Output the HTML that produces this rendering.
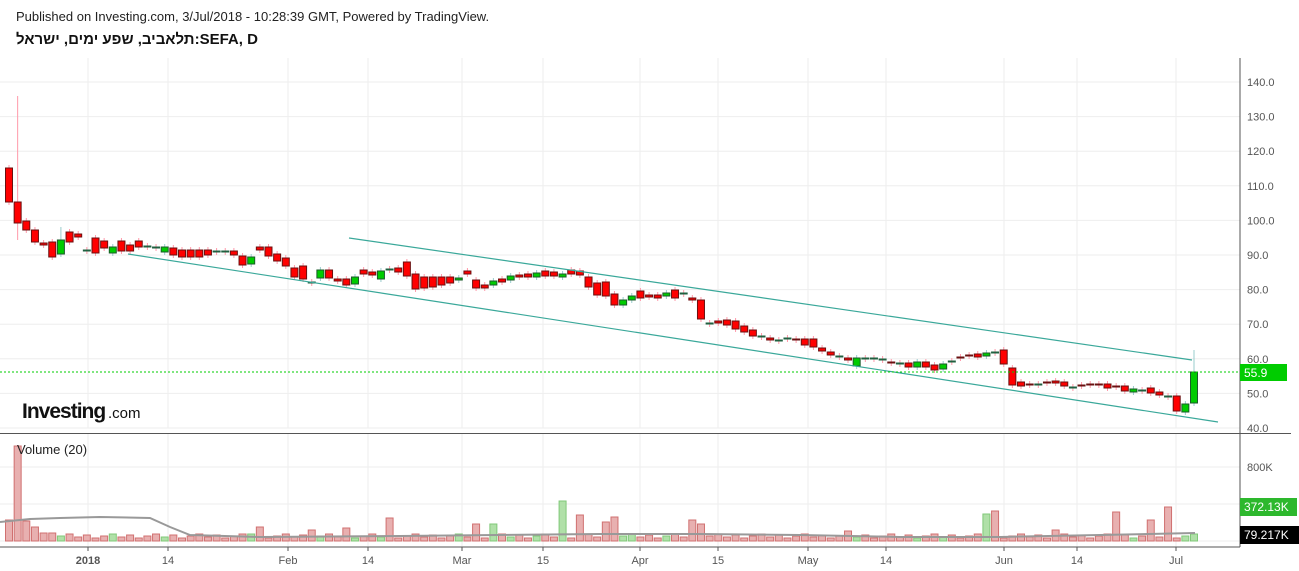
<!DOCTYPE html>
<html><head><meta charset="utf-8"><style>
body{margin:0;background:#fff;width:1299px;height:571px;overflow:hidden;font-family:"Liberation Sans",sans-serif}
#h1{position:absolute;left:16px;top:9px;font-size:13px;color:#222}
#h2{position:absolute;left:16px;top:31px;font-size:15px;font-weight:bold;color:#111;font-family:"Liberation Sans","Noto Sans CJK JP",sans-serif}
svg{position:absolute;left:0;top:0}
</style></head><body>
<div id="h1">Published on Investing.com, 3/Jul/2018 - 10:28:39 GMT, Powered by TradingView.</div>
<div id="h2" dir="ltr">תלאביב, שפע ימים, ישראל:SEFA, D</div>
<svg id="s" width="1299" height="571" xmlns="http://www.w3.org/2000/svg" font-family="Liberation Sans, sans-serif"></svg>
<script>
var s='';
function L(x1,y1,x2,y2,c,w,extra){s+='<line x1="'+x1+'" y1="'+y1+'" x2="'+x2+'" y2="'+y2+'" stroke="'+c+'" stroke-width="'+(w||1)+'" '+(extra||'')+'/>';}
function R(x,y,w,h,f,st){s+='<rect x="'+x+'" y="'+y+'" width="'+w+'" height="'+h+'" fill="'+f+'"'+(st?' stroke="'+st+'" stroke-width="1"':'')+'/>';}
function T(x,y,t,o){s+='<text x="'+x+'" y="'+y+'" '+(o||'')+'>'+t+'</text>';}
var vx=[88,168,288,368,462,543,640,718,808,886,1004,1077,1176];
vx.forEach(function(x){L(x,58,x,428,'#eee');L(x,434,x,547,'#eee');});
for(var p=40;p<=140;p+=10){var y=428-(p-40)*3.46;L(0,y,1240,y,'#eee');T(1247,y+4,p.toFixed(1),'font-size="11" fill="#555"');}
L(0,467,1240,467,'#eee');L(0,504,1240,504,'#eee');L(0,541,1240,541,'#eee');
T(1247,471,'800K','font-size="11" fill="#555"');
var c=[[168,202,'r'],[202,223,'r'],[221,230,'r'],[230,242,'r'],[243,245,'r'],[242,257,'r'],[240,254,'g'],[232,242,'r'],[234,237,'r'],[250,251,'d'],[238,253,'r'],[241,248,'r'],[247,253,'g'],[241,251,'r'],[245,251,'r'],[241,247,'r'],[246,247,'d'],[247,248,'d'],[247,252,'g'],[248,255,'r'],[250,257,'r'],[250,257,'r'],[250,257,'r'],[250,255,'r'],[251,252,'d'],[251,252,'d'],[251,255,'r'],[256,265,'r'],[257,264,'g'],[247,250,'r'],[247,256,'r'],[254,261,'r'],[258,266,'r'],[268,277,'r'],[266,279,'r'],[282,283,'d'],[270,278,'g'],[270,278,'r'],[279,281,'r'],[279,285,'r'],[277,284,'g'],[270,274,'r'],[272,275,'r'],[271,279,'g'],[269,270,'d'],[268,272,'r'],[262,276,'r'],[274,289,'r'],[277,288,'r'],[277,287,'r'],[277,285,'r'],[277,283,'r'],[278,280,'g'],[271,274,'r'],[280,288,'r'],[285,288,'r'],[281,285,'g'],[279,282,'r'],[276,280,'g'],[275,277,'r'],[274,277,'r'],[273,277,'g'],[271,276,'r'],[272,276,'r'],[274,277,'g'],[270,274,'r'],[271,275,'r'],[277,287,'r'],[283,295,'r'],[282,296,'r'],[294,305,'r'],[300,305,'g'],[296,300,'g'],[291,298,'r'],[295,297,'r'],[295,298,'r'],[293,296,'g'],[290,298,'r'],[293,294,'d'],[298,300,'r'],[300,319,'r'],[323,324,'d'],[321,323,'r'],[320,325,'r'],[321,329,'r'],[326,332,'r'],[330,336,'r'],[336,337,'d'],[338,340,'r'],[340,341,'d'],[338,339,'d'],[339,340,'r'],[339,345,'r'],[339,347,'r'],[348,351,'r'],[352,355,'r'],[356,357,'d'],[358,360,'r'],[358,366,'g'],[358,359,'d'],[358,359,'d'],[359,360,'d'],[362,363,'r'],[363,364,'d'],[363,367,'r'],[362,367,'g'],[362,367,'r'],[365,370,'r'],[364,369,'g'],[361,362,'d'],[357,358,'r'],[355,356,'r'],[354,357,'r'],[353,356,'g'],[352,353,'d'],[350,364,'r'],[368,385,'r'],[382,386,'r'],[384,385,'r'],[384,385,'d'],[382,383,'r'],[381,383,'r'],[382,386,'r'],[387,388,'d'],[385,386,'r'],[384,385,'r'],[384,385,'r'],[384,388,'r'],[386,387,'r'],[386,391,'r'],[389,392,'g'],[390,391,'d'],[388,393,'r'],[392,395,'r'],[396,397,'d'],[396,411,'r'],[404,412,'g'],[372,403,'g']];
var n=c.length,x0=9,dx=(1194-9)/(n-1);
c.forEach(function(k,i){var x=x0+i*dx;var up=k[2]=='g';var wc=up?'#9cc':'#f9a';
 var hi=k[0]-3,lo=k[1]+3;if(i==1){hi=96;lo=240;} if(i==n-1){hi=350;} if(i==6){hi=227;}
 L(x,hi,x,lo,wc);
 var f=k[2]=='r'?'#f00':(k[2]=='g'?'#0c0':'#7a1a1a'),st=k[2]=='g'?'#1a5a2a':'#6a1010';
 if(k[2]=='d'){f='#206040';st='#206040';}
 R(x-3.5,k[0],7,Math.max(1,k[1]-k[0]),f,st);});
L(349,238,1192,360,'#3aa89a',1.2);L(128,254,1218,422,'#3aa89a',1.2);
L(0,372,1240,372,'#0c0',1,'stroke-dasharray="2,2"');
var big={0:520,1:446,2:521,3:527,4:533,5:533,28:534,29:527,35:530,39:528,44:518,54:524,56:524,64:501,66:515,69:522,70:517,79:520,80:524,97:531,113:514,114:511,121:530,128:512,132:520,134:507};
c.forEach(function(k,i){var x=x0+i*dx;var y=big[i]||(538-(i*7%5));var up=k[2]=='g';
 R(x-3.5,y,7,541-y,up?'#b0e0a8':'#e8b0b0',up?'#80c878':'#d07070');});
s+='<polyline fill="none" stroke="#999" stroke-width="2" points="0,522 30,519 60,518 100,517 150,518 170,527 190,535 260,537 400,536 600,534 700,534 800,535 900,537 1000,537 1100,535 1195,533"/>';
L(1240,58,1240,547,'#555');L(0,433.5,1291,433.5,'#555');L(0,547,1240,547,'#555');
vx.forEach(function(x){L(x,547,x,551,'#555');});
var lb=['2018','14','Feb','14','Mar','15','Apr','15','May','14','Jun','14','Jul'];
vx.forEach(function(x,i){T(x,564,lb[i],'font-size="11" fill="#555" text-anchor="middle"'+(i==0?' font-weight="bold"':''));});
R(1240,364,47,17,'#0c0');T(1244,377,'55.9','font-size="12" fill="#fff"');
R(1240,498,57,18,'#2db82d');T(1244,511,'372.13K','font-size="12" fill="#fff"');
R(1240,526,59,18,'#000');T(1244,539,'79.217K','font-size="12" fill="#fff"');
T(17,454,'Volume (20)','font-size="13" fill="#222"');
T(22,418,'Investing','font-size="21" font-weight="bold" fill="#111" letter-spacing="-1"');
T(108,418,'.com','font-size="15" fill="#111"');
document.getElementById('s').innerHTML=s;
</script>
</body></html>
